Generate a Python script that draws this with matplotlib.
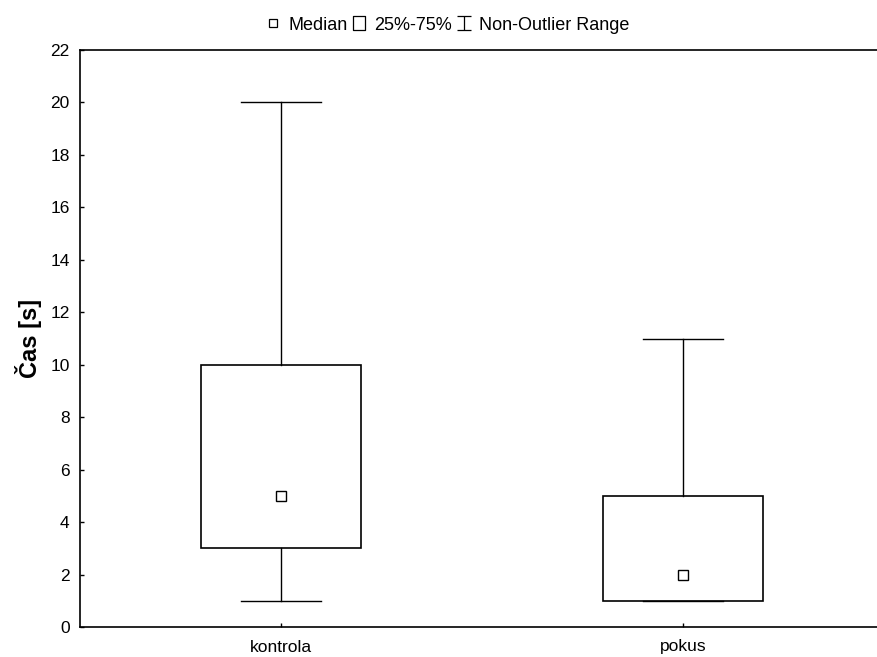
import matplotlib
matplotlib.use("Agg")
import matplotlib.pyplot as plt
from matplotlib.lines import Line2D
from matplotlib.path import Path

plt.rcParams['font.family'] = ['Liberation Sans', 'DejaVu Sans']

categories = ["kontrola", "pokus"]
medians = [5, 2]
q1 = [3, 1]
q3 = [10, 5]
whisker_low = [1, 1]
whisker_high = [20, 11]
y_ticks = list(range(0, 23, 2))
y_label = "Čas [s]"

fig = plt.figure(figsize=(8.77, 6.57), dpi=100)
ax = fig.add_axes([80/877, 1-627/657, (884-80)/877, (627-50)/657])

positions = [1, 2]
stats = []
for i, c in enumerate(categories):
    stats.append(dict(med=medians[i], q1=q1[i], q3=q3[i], whislo=whisker_low[i],
                      whishi=whisker_high[i], fliers=[], label=c))
ax.bxp(stats, positions=positions, widths=0.4, showfliers=False, patch_artist=True,
       boxprops=dict(facecolor='white', edgecolor='black', linewidth=1.2),
       whiskerprops=dict(color='black', linewidth=1.0),
       capprops=dict(color='black', linewidth=1.0),
       medianprops=dict(linewidth=0), capwidths=0.2, zorder=2)
ax.plot(positions, medians, ls='none', marker='s', ms=6.5, mfc='white', mec='black', mew=1.0, zorder=3)

ax.set_xlim(0.5, 2.5)
ax.set_ylim(0, 22)
ax.set_yticks(y_ticks)
ax.set_xticks(positions)
ax.set_xticklabels(categories)
ax.tick_params(direction='in', length=3, width=1, labelsize=12.5, colors='black')
ax.tick_params(axis='x', pad=9)
ax.tick_params(axis='y', pad=7.5)
for s in ax.spines.values():
    s.set_linewidth(1.2)
ax.set_ylabel(y_label, fontsize=17, fontweight='bold', labelpad=6)

# legend
ibeam = Path([(-0.5, 0.5), (0.5, 0.5), (0, 0.5), (0, -0.5), (-0.5, -0.5), (0.5, -0.5)],
             [Path.MOVETO, Path.LINETO, Path.MOVETO, Path.LINETO, Path.MOVETO, Path.LINETO])
rect = Path([(-0.42, -0.5), (0.42, -0.5), (0.42, 0.5), (-0.42, 0.5), (-0.42, -0.5)],
            [Path.MOVETO, Path.LINETO, Path.LINETO, Path.LINETO, Path.CLOSEPOLY])
handles = [
    Line2D([], [], ls='none', marker='s', ms=5.5, mfc='white', mec='black', mew=0.9),
    Line2D([], [], ls='none', marker=rect, ms=10, mfc='white', mec='black', mew=0.9),
    Line2D([], [], ls='none', marker=ibeam, ms=10, mfc='none', mec='black', mew=0.9),
]
labels = ["Median", "25%-75%", "Non-Outlier Range"]
fig.legend(handles, labels, loc='center', bbox_to_anchor=(448/877, 1-25/657), ncol=3,
           frameon=False, fontsize=13, handlelength=0.7, handletextpad=0.5,
           columnspacing=0.3, borderpad=0)

fig.savefig("out.png", dpi=100)
